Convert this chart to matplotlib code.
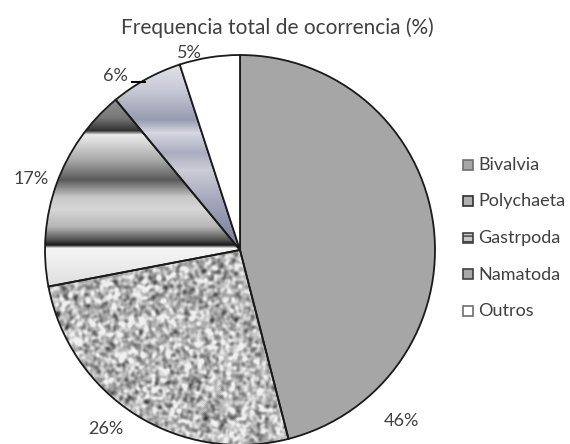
import numpy as np
import matplotlib.pyplot as plt
from matplotlib.patches import Rectangle

plt.rcParams['font.family'] = ['Lato', 'DejaVu Sans']

categorias = ['Bivalvia', 'Polychaeta', 'Gastrpoda', 'Namatoda', 'Outros']
frequencia = [46, 26, 17, 6, 5]
titulo = 'Frequencia total de ocorrencia (%)'

W, H = 570, 444
fig = plt.figure(figsize=(W / 100, H / 100), dpi=100)
ax = fig.add_axes([0, 0, 1, 1])

cx, cy, r = 240, H - 250, 195
wedges, _ = ax.pie(frequencia, startangle=90, counterclock=False,
                   center=(cx, cy), radius=r, frame=True,
                   colors=['#a6a6a6', 'none', 'none', 'none', 'white'],
                   wedgeprops=dict(edgecolor='#1a1a1a', linewidth=1.3))
for w in wedges:
    w.set_zorder(3)

# granite texture (Polychaeta)
rng = np.random.default_rng(7)
noise = rng.random((H, W))
for _ in range(5):
    noise = (noise + np.roll(noise, 1, 0) + np.roll(noise, -1, 0)
             + np.roll(noise, 1, 1) + np.roll(noise, -1, 1)) / 5
noise = (noise - noise.mean()) / noise.std()
granite = np.clip(182 + 34 * noise, 50, 240) / 255
im = ax.imshow(granite, cmap='gray', vmin=0, vmax=1, extent=(0, W, 0, H),
               origin='upper', zorder=2, interpolation='bilinear')
im.set_clip_path(wedges[1])

# horizontal metallic bands (Gastrpoda)
rows = np.arange(H)
gy = [95, 118, 131, 135, 143, 160, 180, 197, 210, 227, 240, 245, 248, 267, 295]
gv = [150, 120, 50, 235, 215, 170, 90, 200, 215, 180, 80, 25, 245, 235, 215]
band = np.interp(rows, gy, gv) / 255
im2 = ax.imshow(np.tile(band[:, None], (1, W)), cmap='gray', vmin=0, vmax=1,
                extent=(0, W, 0, H), origin='upper', zorder=2)
im2.set_clip_path(wedges[2])

# bluish gradient (Namatoda)
ny = [60, 90, 120, 133, 153, 170, 200, 250]
nrgb = np.array([(230, 230, 236), (200, 202, 215), (150, 155, 175),
                 (215, 215, 225), (170, 173, 192), (205, 205, 215),
                 (165, 168, 188), (115, 120, 150)]) / 255
blue = np.stack([np.interp(rows, ny, nrgb[:, k]) for k in range(3)], axis=1)
im3 = ax.imshow(np.repeat(blue[:, None, :], W, axis=1), extent=(0, W, 0, H),
                origin='upper', zorder=2)
im3.set_clip_path(wedges[3])

# percentage labels
pos = [(401, 421), (106, 429), (31, 179), (115, 76), (189, 53)]
for v, (x, y) in zip(frequencia, pos):
    ax.text(x, H - y, f'{v}%', ha='center', va='center', fontsize=13,
            color='#404040', zorder=5)
ax.plot([132, 145], [H - 82, H - 82], color='black', lw=1.5, zorder=5)

ax.text(277, H - 28, titulo, ha='center', va='center', fontsize=15,
        color='#404040')

# legend
fills = ['#a6a6a6', '#b0b0b0', '#c8c8c8', '#a8a8a8', 'white']
edges = ['#707070', '#303030', '#404040', '#404040', '#707070']
for i, (nome, fc, ec) in enumerate(zip(categorias, fills, edges)):
    ly = H - (165 + 36.5 * i)
    ax.add_patch(Rectangle((463, ly - 5), 10, 10, facecolor=fc,
                           edgecolor=ec, lw=1.2,
                           hatch='---' if nome == 'Gastrpoda' else None))
    ax.text(478, ly, nome, ha='left', va='center', fontsize=13,
            color='#404040')

ax.set_xlim(0, W)
ax.set_ylim(0, H)
ax.set_aspect('equal')
ax.axis('off')
fig.savefig('out.png', dpi=100)
